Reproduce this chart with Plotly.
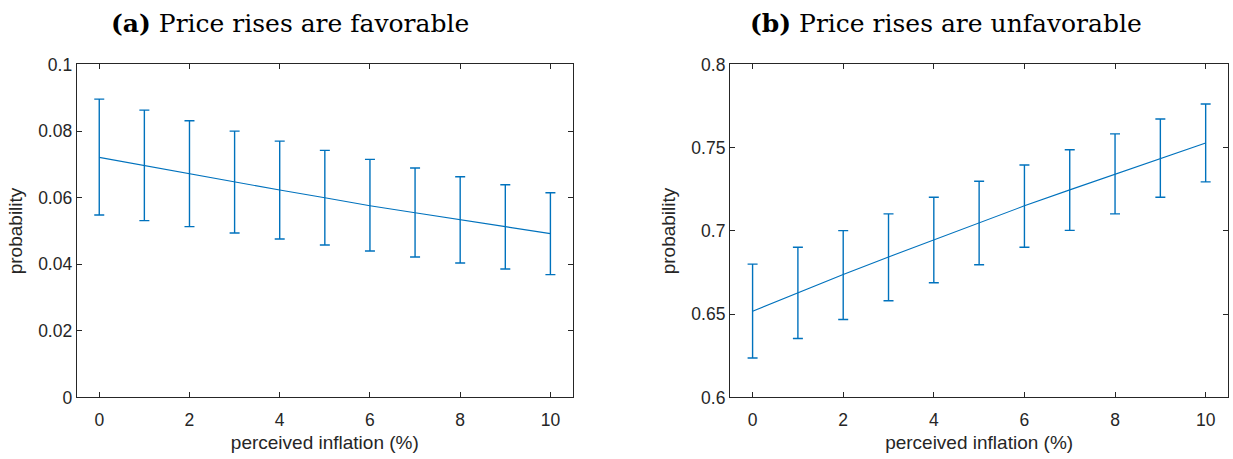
import plotly.graph_objects as go

x = [0, 1, 2, 3, 4, 5, 6, 7, 8, 9, 10]

# Panel (a): price rises are favorable
a_mean = [0.0721, 0.0696, 0.0671, 0.0647, 0.0623, 0.0600, 0.0576, 0.0555, 0.0533, 0.0513, 0.0492]
a_upper = [0.0896, 0.0863, 0.0831, 0.0800, 0.0770, 0.0742, 0.0715, 0.0689, 0.0663, 0.0639, 0.0615]
a_lower = [0.0548, 0.0531, 0.0513, 0.0494, 0.0476, 0.0458, 0.0440, 0.0422, 0.0404, 0.0386, 0.0369]

# Panel (b): price rises are unfavorable
b_mean = [0.6518, 0.6629, 0.6739, 0.6844, 0.6946, 0.7048, 0.7151, 0.7247, 0.7342, 0.7436, 0.7528]
b_upper = [0.6801, 0.6902, 0.7002, 0.7103, 0.7203, 0.7299, 0.7396, 0.7488, 0.7583, 0.7673, 0.7763]
b_lower = [0.6237, 0.6354, 0.6468, 0.6581, 0.6689, 0.6797, 0.6902, 0.7004, 0.7103, 0.7203, 0.7295]

x_ticks = [0, 2, 4, 6, 8, 10]
a_yticks = [0, 0.02, 0.04, 0.06, 0.08, 0.1]
a_yticklabels = ["0", "0.02", "0.04", "0.06", "0.08", "0.1"]
b_yticks = [0.6, 0.65, 0.7, 0.75, 0.8]
b_yticklabels = ["0.6", "0.65", "0.7", "0.75", "0.8"]

titles = ["<b>(a)</b> Price rises are favorable", "<b>(b)</b> Price rises are unfavorable"]
x_title = "perceived inflation (%)"
y_title = "probability"

BLUE = "#0072BD"
AX = "#262626"

fig = go.Figure()


def add_panel(mean, upper, lower, xa, ya):
    plus = [u - m for u, m in zip(upper, mean)]
    minus = [m - l for m, l in zip(mean, lower)]
    fig.add_trace(go.Scatter(
        x=x, y=mean, mode="lines", xaxis=xa, yaxis=ya,
        line=dict(color=BLUE, width=1.1),
        error_y=dict(type="data", symmetric=False, array=plus, arrayminus=minus,
                     color=BLUE, thickness=1.4, width=5),
        showlegend=False,
    ))


add_panel(a_mean, a_upper, a_lower, "x", "y")
add_panel(b_mean, b_upper, b_lower, "x2", "y2")

tickfont = dict(family="Liberation Sans, Arial, sans-serif", size=17.5, color=AX)
titlefont = dict(family="Liberation Sans, Arial, sans-serif", size=19, color=AX)

common_x = dict(range=[-0.5, 10.5], tickvals=x_ticks, ticks="inside", ticklen=5,
                tickcolor=AX, showline=True, linecolor=AX, linewidth=1, mirror="allticks",
                showgrid=False, zeroline=False, tickfont=tickfont, automargin=False,
                ticklabelstandoff=7,
                title=dict(text=x_title, font=titlefont, standoff=6))
common_y = dict(ticks="inside", ticklen=5, tickcolor=AX, showline=True, linecolor=AX,
                linewidth=1, mirror="allticks", showgrid=False, zeroline=False,
                tickfont=tickfont, automargin=False,
                title=dict(text=y_title, font=titlefont, standoff=10))

fig.update_layout(
    width=1233, height=459,
    margin=dict(l=0, r=0, t=0, b=0, autoexpand=False),
    paper_bgcolor="white", plot_bgcolor="white",
    xaxis=dict(domain=[0.0622, 0.4647], anchor="y", **common_x),
    yaxis=dict(domain=[0.134, 0.8595], anchor="x", range=[0, 0.1], tickvals=a_yticks,
               ticktext=a_yticklabels, **common_y),
    xaxis2=dict(domain=[0.5920, 0.9962], anchor="y2", **common_x),
    yaxis2=dict(domain=[0.134, 0.8595], anchor="x2", range=[0.6, 0.8], tickvals=b_yticks,
                ticktext=b_yticklabels, **common_y),
)

title_font = dict(family="DejaVu Serif, Liberation Serif, serif", size=25, color="black")
for txt, xc in zip(titles, [0.2352, 0.7672]):
    fig.add_annotation(text=txt, x=xc, y=0.948, xref="paper", yref="paper",
                       showarrow=False, xanchor="center", yanchor="middle", font=title_font)

fig.write_html(
    "out.html",
    config={"displayModeBar": False},
    post_script="document.body.style.margin='0';document.body.style.overflow='hidden';",
)
